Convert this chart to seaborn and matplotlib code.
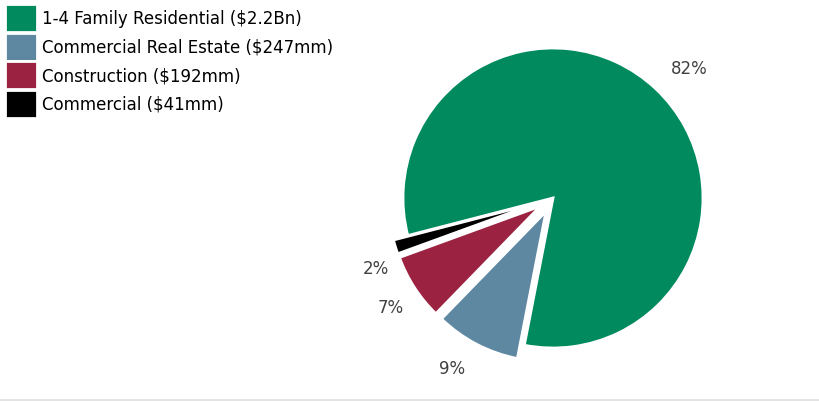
import matplotlib
matplotlib.use("Agg")
import numpy as np
import matplotlib.pyplot as plt
from matplotlib.lines import Line2D
import seaborn as sns

categories = ["1-4 Family Residential ($2.2Bn)", "Commercial Real Estate ($247mm)",
              "Construction ($192mm)", "Commercial ($41mm)"]
values = [2200, 247, 192, 41]
colors = ["#008A5E", "#5E88A2", "#9B2341", "#000000"]
explode = [0.0, 0.1, 0.1, 0.1]
# label placement tweaks (angle shift in degrees, radial distance)
label_shift = [-3.0, -3.4, 1.1, 4.75]
label_r = [1.254, 1.217, 1.20, 1.17]

sns.set_theme(style="white")
plt.rcParams["font.family"] = ["DejaVu Sans"]

fig = plt.figure(figsize=(8.19, 4.02), dpi=100)
W, H = 819, 402
cx, cy, R = 553, 402 - 199, 150
k = 1.4
side = 2 * k * R
ax = fig.add_axes([(cx - side / 2) / W, (cy - side / 2) / H, side / W, side / H])

wedges, texts, autotexts = ax.pie(
    values, colors=colors, explode=explode, startangle=194.5, counterclock=False,
    autopct="%.0f%%", pctdistance=1.22, radius=1,
    wedgeprops=dict(edgecolor="white", linewidth=2),
    textprops=dict(color="#404040", fontsize=12))
for w, t, sh, r in zip(wedges, autotexts, label_shift, label_r):
    ang = np.deg2rad((w.theta1 + w.theta2) / 2 + sh)
    x0, y0 = w.center
    t.set_position((x0 + r * np.cos(ang), y0 + r * np.sin(ang)))
ax.set_xlim(-k, k)
ax.set_ylim(-k, k)
ax.set_aspect("equal")
ax.axis("off")

fig.legend(wedges, categories, loc="upper left", bbox_to_anchor=(5 / W, 1 - 5 / H),
           frameon=False, fontsize=12, handlelength=1.9, handleheight=2.21,
           handletextpad=0.3, labelspacing=0.03, borderpad=0, borderaxespad=0)
for t in fig.legends[0].get_texts():
    t.set_color("#000000")

fig.add_artist(Line2D([0, 1], [0.8 / H, 0.8 / H], transform=fig.transFigure,
                      color="#E3E3E3", linewidth=1.5))

fig.savefig("out.png", dpi=100)
